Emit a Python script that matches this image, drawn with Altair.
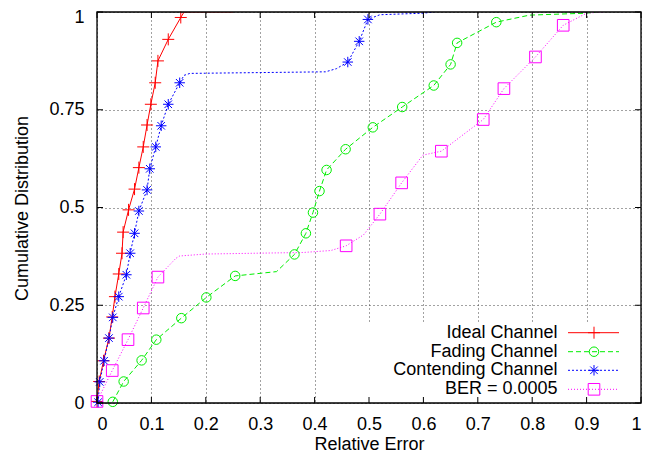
import altair as alt
import pandas as pd

# ---------------- data ----------------
x_ticks = [0.0, 0.1, 0.2, 0.3, 0.4, 0.5, 0.6, 0.7, 0.8, 0.9, 1.0]
y_ticks = [0.0, 0.25, 0.5, 0.75, 1.0]

series_names = ["Ideal Channel", "Fading Channel", "Contending Channel", "BER = 0.0005"]

# Ideal Channel (markers)
ideal_mx = [0.0, 0.004, 0.012, 0.022, 0.028, 0.033, 0.040, 0.046, 0.048, 0.058,
            0.069, 0.077, 0.085, 0.092, 0.099, 0.107, 0.112, 0.131, 0.154]
ideal_my = [0.004, 0.055, 0.108, 0.166, 0.220, 0.272, 0.330, 0.383, 0.437, 0.494,
            0.547, 0.602, 0.655, 0.711, 0.764, 0.819, 0.875, 0.930, 0.986]
# Ideal Channel (line vertices)
ideal_lx = [0.0] + ideal_mx + [0.16, 0.25]
ideal_ly = [0.0] + ideal_my + [1.0, 1.0]

# Fading Channel
fading_mx = [0.029, 0.049, 0.082, 0.109, 0.155, 0.201, 0.254, 0.363, 0.384, 0.397,
             0.409, 0.422, 0.457, 0.507, 0.561, 0.619, 0.650, 0.662, 0.734]
fading_my = [0.003, 0.055, 0.109, 0.162, 0.217, 0.270, 0.325, 0.380, 0.434, 0.487,
             0.542, 0.596, 0.649, 0.705, 0.757, 0.812, 0.866, 0.921, 0.974]
fading_lx = [0.029, 0.049, 0.082, 0.109, 0.155, 0.201, 0.254, 0.33, 0.363, 0.384, 0.397,
             0.409, 0.422, 0.457, 0.507, 0.561, 0.619, 0.650, 0.662, 0.734, 0.795, 0.90, 0.92]
fading_ly = [0.003, 0.055, 0.109, 0.162, 0.217, 0.270, 0.325, 0.336, 0.380, 0.434, 0.487,
             0.542, 0.596, 0.649, 0.705, 0.757, 0.812, 0.866, 0.921, 0.974, 0.992, 0.997, 1.0]

# Contending Channel
cont_mx = [0.002, 0.005, 0.013, 0.022, 0.029, 0.040, 0.054, 0.061, 0.069, 0.077,
           0.092, 0.097, 0.108, 0.118, 0.131, 0.152, 0.461, 0.482, 0.498]
cont_my = [0.002, 0.054, 0.108, 0.166, 0.219, 0.272, 0.328, 0.383, 0.434, 0.491,
           0.545, 0.599, 0.655, 0.709, 0.764, 0.819, 0.872, 0.925, 0.981]
cont_lx = [0.002, 0.005, 0.013, 0.022, 0.029, 0.040, 0.054, 0.061, 0.069, 0.077,
           0.092, 0.097, 0.108, 0.118, 0.131, 0.152, 0.16, 0.171, 0.42, 0.44,
           0.461, 0.482, 0.498, 0.52, 0.60, 0.62]
cont_ly = [0.002, 0.054, 0.108, 0.166, 0.219, 0.272, 0.328, 0.383, 0.434, 0.491,
           0.545, 0.599, 0.655, 0.709, 0.764, 0.819, 0.838, 0.843, 0.847, 0.855,
           0.872, 0.925, 0.981, 0.993, 0.997, 1.0]

# BER = 0.0005
ber_mx = [0.0, 0.028, 0.057, 0.085, 0.112, 0.458, 0.520, 0.560, 0.633, 0.710, 0.748, 0.806, 0.857]
ber_my = [0.004, 0.083, 0.162, 0.243, 0.322, 0.402, 0.483, 0.563, 0.644, 0.725, 0.804, 0.885, 0.966]
ber_lx = [0.0, 0.028, 0.057, 0.085, 0.112, 0.145, 0.152, 0.20, 0.38, 0.43, 0.458, 0.49,
          0.520, 0.560, 0.599, 0.633, 0.710, 0.748, 0.806, 0.857, 0.90, 0.93]
ber_ly = [0.004, 0.083, 0.162, 0.243, 0.322, 0.370, 0.376, 0.381, 0.385, 0.390, 0.402, 0.43,
          0.483, 0.563, 0.634, 0.644, 0.725, 0.804, 0.885, 0.966, 0.997, 1.0]

# ---------------- styling ----------------
FONT = "Liberation Sans"
FS = 18
W, H = 544, 391

PLUS = "M-1,0L1,0M0,-1L0,1"
STAR = "M-1,0L1,0M0,-1L0,1M-0.72,-0.72L0.72,0.72M-0.72,0.72L0.72,-0.72"

styles = [
    dict(color="#ff0000", dash=None, shape=PLUS, size=144),
    dict(color="#00ee00", dash=[5, 3], shape="circle", size=90),
    dict(color="#0000ff", dash=[2, 2], shape=STAR, size=110),
    dict(color="#ff00ff", dash=[1, 2], shape="square", size=135),
]
lines_data = [(ideal_lx, ideal_ly), (fading_lx, fading_ly), (cont_lx, cont_ly), (ber_lx, ber_ly)]
marks_data = [(ideal_mx, ideal_my), (fading_mx, fading_my), (cont_mx, cont_my), (ber_mx, ber_my)]

xs = alt.Scale(domain=[0, 1], nice=False, zero=False)
ys = alt.Scale(domain=[0, 1], nice=False, zero=False)

x_axis = alt.Axis(values=x_ticks, format=".1~f", grid=True, ticks=False, domain=False,
                  labelPadding=12, labelFontSize=FS, labelFont=FONT, labelColor="black",
                  gridColor="#444", gridDash=[1, 3], gridWidth=1, gridOpacity=1,
                  titleFontSize=FS, titleFont=FONT, titleFontWeight="normal", titleColor="black",
                  titleX=272, titleY=46, titleBaseline="alphabetic")
y_axis = alt.Axis(values=y_ticks, format=".2~f", grid=True, ticks=False, domain=False,
                  labelPadding=13, labelFontSize=FS, labelFont=FONT, labelColor="black",
                  labelOffset=alt.ExprRef(expr="datum.value == 1 ? 5 : 0"),
                  gridColor="#444", gridDash=[1, 3], gridWidth=1, gridOpacity=1,
                  titleFontSize=FS, titleFont=FONT, titleFontWeight="normal", titleColor="black",
                  titleAngle=270, titleX=-70, titleY=196, titleBaseline="alphabetic")

X = alt.X("x:Q", scale=xs, axis=x_axis, title="Relative Error")
Y = alt.Y("y:Q", scale=ys, axis=y_axis, title="Cumulative Distribution")

dummy = pd.DataFrame({"d": [0]})
layers = []

# legend box background (hides grid under the key)
layers.append(alt.Chart(dummy).mark_rect(color="white").encode(
    x=alt.value(258), x2=alt.value(543), y=alt.value(311), y2=alt.value(390)))

for (lx, ly), st in zip(lines_data, styles):
    ldf = pd.DataFrame({"x": lx, "y": ly, "i": list(range(len(lx)))})
    lk = dict(color=st["color"], strokeWidth=1, clip=True)
    if st["dash"]:
        lk["strokeDash"] = st["dash"]
    layers.append(alt.Chart(ldf).mark_line(**lk).encode(x=X, y=Y, order=alt.Order("i:Q")))
for (mx, my), st in zip(marks_data, styles):
    mdf = pd.DataFrame({"x": mx, "y": my})
    layers.append(alt.Chart(mdf).mark_point(shape=st["shape"], size=st["size"], filled=False,
                                            strokeWidth=1, color=st["color"], opacity=1).encode(x=X, y=Y))

# inward tick marks on all four sides
xt = pd.DataFrame({"x": x_ticks})
yt = pd.DataFrame({"y": y_ticks})
layers.append(alt.Chart(xt).mark_rule(color="black", strokeWidth=1).encode(
    x=X, y=alt.value(H), y2=alt.value(H - 6)))
layers.append(alt.Chart(xt).mark_rule(color="black", strokeWidth=1).encode(
    x=X, y=alt.value(0), y2=alt.value(6)))
layers.append(alt.Chart(yt).mark_rule(color="black", strokeWidth=1).encode(
    y=Y, x=alt.value(0), x2=alt.value(6)))
layers.append(alt.Chart(yt).mark_rule(color="black", strokeWidth=1).encode(
    y=Y, x=alt.value(W), x2=alt.value(W - 6)))

# frame
layers.append(alt.Chart(dummy).mark_rect(fillOpacity=0, stroke="black", strokeWidth=1.3).encode(
    x=alt.value(0), x2=alt.value(W), y=alt.value(0), y2=alt.value(H)))

# key (gnuplot style: text right-aligned, sample on the right)
row_y = [320.7, 339.7, 358.3, 377.3]
for name, st, ry in zip(series_names, styles, row_y):
    layers.append(alt.Chart(dummy).mark_text(align="right", baseline="middle", font=FONT,
                                             fontSize=FS, color="black").encode(
        x=alt.value(460.5), y=alt.value(ry), text=alt.value(name)))
    rk = dict(color=st["color"], strokeWidth=1)
    if st["dash"]:
        rk["strokeDash"] = st["dash"]
    layers.append(alt.Chart(dummy).mark_rule(**rk).encode(
        x=alt.value(471), x2=alt.value(522), y=alt.value(ry)))
    layers.append(alt.Chart(dummy).mark_point(shape=st["shape"], size=st["size"], filled=False,
                                              strokeWidth=1, color=st["color"], opacity=1).encode(
        x=alt.value(497), y=alt.value(ry)))

chart = alt.layer(*layers).properties(
    width=W, height=H,
    autosize=alt.AutoSizeParams(type="none"),
    padding={"left": 89, "top": 4, "right": 7, "bottom": 51},
).configure_view(stroke=None).configure(background="white")

chart.save("out.html", embed_options={"renderer": "svg", "actions": False})
